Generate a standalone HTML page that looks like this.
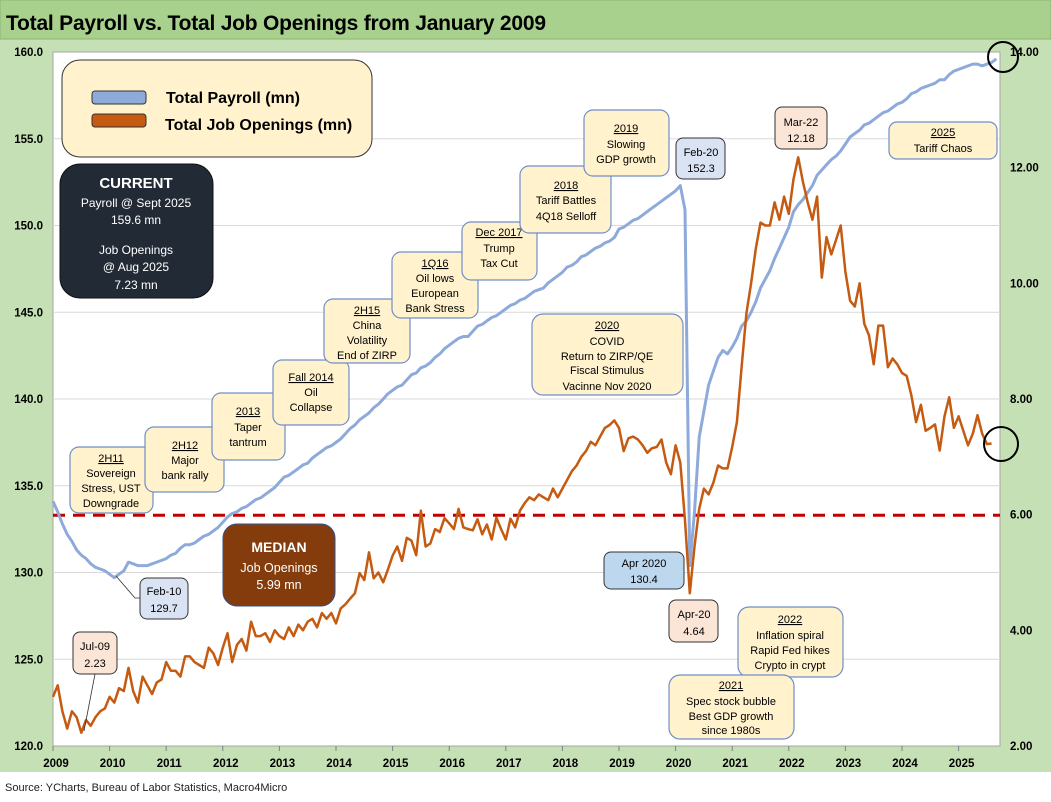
<!DOCTYPE html>
<html><head><meta charset="utf-8">
<style>
html,body{margin:0;padding:0;background:#fff;}
svg{display:block;font-family:"Liberation Sans",sans-serif;}
.bx{fill:#fff2cc;stroke:#6f8fc8;stroke-width:1.2;}
.t{font-size:11px;fill:#000;text-anchor:middle;}
.u{text-decoration:underline;}
.ax{font-size:11.5px;font-weight:bold;fill:#000;}
</style></head>
<body>
<svg id="chart" width="1051" height="802" viewBox="0 0 1051 802">
<rect x="0" y="0" width="1051" height="772" fill="#c5e0b4"/>
<rect x="0" y="0" width="1051" height="39" fill="#a9d18e" stroke="#8fb276"/>
<text x="6" y="30" font-size="21" font-weight="bold" fill="#000" textLength="540">Total Payroll vs. Total Job Openings from January 2009</text>
<rect x="53" y="52" width="947" height="694" fill="#fff" stroke="#a6a6a6"/>
<g id="grid"></g>
<g id="axes"></g>
<line id="median" x1="53" x2="1000" stroke="#c00000" stroke-width="3" stroke-dasharray="12,8"/>
<path id="payroll" fill="none" stroke="#8eaadb" stroke-width="3" stroke-linejoin="round"/>
<path id="openings" fill="none" stroke="#c55a11" stroke-width="2.5" stroke-linejoin="round"/>

<g>
<rect x="62" y="60" width="310" height="97" rx="18" fill="#fff2cc" stroke="#333" stroke-width="1"/>
<rect x="92" y="91" width="54" height="13" rx="3" fill="#8eaadb" stroke="#333"/>
<rect x="92" y="114" width="54" height="13" rx="3" fill="#c55a11" stroke="#333"/>
<text x="166" y="103" font-size="16" font-weight="bold">Total Payroll (mn)</text>
<text x="165" y="130" font-size="16" font-weight="bold">Total Job Openings (mn)</text>
</g>

<g>
<rect x="60" y="164" width="153" height="134" rx="20" fill="#222a35" stroke="#111"/>
<text x="136" y="188" font-size="15" font-weight="bold" fill="#fff" text-anchor="middle">CURRENT</text>
<text x="136" y="207" font-size="12" fill="#fff" text-anchor="middle">Payroll @ Sept 2025</text>
<text x="136" y="224" font-size="12" fill="#fff" text-anchor="middle">159.6 mn</text>
<text x="136" y="254" font-size="12" fill="#fff" text-anchor="middle">Job Openings</text>
<text x="136" y="271" font-size="12" fill="#fff" text-anchor="middle">@  Aug 2025</text>
<text x="136" y="289" font-size="12" fill="#fff" text-anchor="middle">7.23 mn</text>
</g>

<g>
<rect x="223" y="524" width="112" height="82" rx="14" fill="#843c0c" stroke="#2f4f8f"/>
<text x="279" y="552" font-size="14" font-weight="bold" fill="#fff" text-anchor="middle">MEDIAN</text>
<text x="279" y="572" font-size="12.5" fill="#fff" text-anchor="middle">Job Openings</text>
<text x="279" y="589" font-size="12.5" fill="#fff" text-anchor="middle">5.99  mn</text>
</g>

<g><rect class="bx" x="70" y="447" width="83" height="66" rx="9"/>
<text class="t u" x="111" y="462">2H11</text><text class="t" x="111" y="477">Sovereign</text><text class="t" x="111" y="492">Stress, UST</text><text class="t" x="111" y="507">Downgrade</text></g>
<g><rect class="bx" x="145" y="427" width="79" height="65" rx="9"/>
<text class="t u" x="185" y="449">2H12</text><text class="t" x="185" y="464">Major</text><text class="t" x="185" y="479">bank rally</text></g>
<g><rect class="bx" x="212" y="393" width="73" height="67" rx="9"/>
<text class="t u" x="248" y="415">2013</text><text class="t" x="248" y="431">Taper</text><text class="t" x="248" y="446">tantrum</text></g>
<g><rect class="bx" x="273" y="360" width="76" height="65" rx="9"/>
<text class="t u" x="311" y="381">Fall 2014</text><text class="t" x="311" y="396">Oil</text><text class="t" x="311" y="411">Collapse</text></g>
<g><rect class="bx" x="324" y="299" width="86" height="64" rx="9"/>
<text class="t u" x="367" y="314">2H15</text><text class="t" x="367" y="329">China</text><text class="t" x="367" y="344">Volatility</text><text class="t" x="367" y="359">End of ZIRP</text></g>
<g><rect class="bx" x="392" y="252" width="86" height="66" rx="9"/>
<text class="t u" x="435" y="267">1Q16</text><text class="t" x="435" y="282">Oil lows</text><text class="t" x="435" y="297">European</text><text class="t" x="435" y="312">Bank Stress</text></g>
<g><rect class="bx" x="462" y="222" width="75" height="58" rx="9"/>
<text class="t u" x="499" y="236">Dec 2017</text><text class="t" x="499" y="252">Trump</text><text class="t" x="499" y="267">Tax Cut</text></g>
<g><rect class="bx" x="520" y="166" width="91" height="67" rx="9"/>
<text class="t u" x="566" y="189">2018</text><text class="t" x="566" y="204">Tariff Battles</text><text class="t" x="566" y="220">4Q18 Selloff</text></g>
<g><rect class="bx" x="584" y="110" width="85" height="66" rx="9"/>
<text class="t u" x="626" y="132">2019</text><text class="t" x="626" y="148">Slowing</text><text class="t" x="626" y="163">GDP growth</text></g>
<g><rect x="676" y="138" width="49" height="41" rx="7" fill="#dae3f3" stroke="#333"/>
<text class="t" x="701" y="156" font-size="12">Feb-20</text><text class="t" x="701" y="172" font-size="12">152.3</text></g>
<g><rect x="775" y="107" width="52" height="42" rx="7" fill="#fbe5d6" stroke="#333"/>
<text class="t" x="801" y="126" font-size="12">Mar-22</text><text class="t" x="801" y="142" font-size="12">12.18</text></g>
<g><rect class="bx" x="889" y="122" width="108" height="37" rx="8"/>
<text class="t u" x="943" y="136">2025</text><text class="t" x="943" y="152">Tariff Chaos</text></g>
<g><rect class="bx" x="532" y="314" width="151" height="81" rx="11"/>
<text class="t u" x="607" y="329">2020</text><text class="t" x="607" y="345">COVID</text><text class="t" x="607" y="360">Return  to ZIRP/QE</text><text class="t" x="607" y="374">Fiscal Stimulus</text><text class="t" x="607" y="390">Vacinne  Nov 2020</text></g>
<g><rect x="604" y="552" width="80" height="37" rx="7" fill="#bdd7ee" stroke="#333"/>
<text class="t" x="644" y="567" font-size="12">Apr 2020</text><text class="t" x="644" y="583" font-size="12">130.4</text></g>
<g><rect x="669" y="600" width="49" height="42" rx="7" fill="#fbe5d6" stroke="#333"/>
<text class="t" x="694" y="618" font-size="12">Apr-20</text><text class="t" x="694" y="635" font-size="12">4.64</text></g>
<g><rect class="bx" x="738" y="607" width="105" height="70" rx="11"/>
<text class="t u" x="790" y="623">2022</text><text class="t" x="790" y="639">Inflation spiral</text><text class="t" x="790" y="654">Rapid Fed hikes</text><text class="t" x="790" y="669">Crypto in crypt</text></g>
<g><rect class="bx" x="669" y="675" width="125" height="64" rx="11"/>
<text class="t u" x="731" y="689">2021</text><text class="t" x="731" y="705">Spec stock bubble</text><text class="t" x="731" y="720">Best GDP growth</text><text class="t" x="731" y="734">since 1980s</text></g>
<g>
<polyline points="116,576 135,598 140,598" fill="none" stroke="#333" stroke-width="0.8"/>
<rect x="140" y="578" width="48" height="41" rx="7" fill="#dae3f3" stroke="#333"/>
<text class="t" x="164" y="595" font-size="12">Feb-10</text><text class="t" x="164" y="612" font-size="12">129.7</text></g>
<g>
<line x1="95" y1="674" x2="84" y2="731" stroke="#333" stroke-width="0.8"/>
<rect x="73" y="632" width="44" height="42" rx="7" fill="#fbe5d6" stroke="#333"/>
<text class="t" x="95" y="650" font-size="12">Jul-09</text><text class="t" x="95" y="667" font-size="12">2.23</text></g>

<circle cx="1003" cy="57" r="15" fill="none" stroke="#000" stroke-width="2"/>
<circle cx="1001" cy="444" r="17" fill="none" stroke="#000" stroke-width="2"/>

<text x="5" y="791" font-size="11" fill="#222">Source: YCharts, Bureau of Labor Statistics, Macro4Micro</text>
</svg>
<script>
const startYear = 2009;
const yearLabels = [2009,2010,2011,2012,2013,2014,2015,2016,2017,2018,2019,2020,2021,2022,2023,2024,2025];
const leftTicks = [120,125,130,135,140,145,150,155,160];
const rightTicks = [2,4,6,8,10,12,14];
const medianOpenings = 5.99;
const payroll = [
134.1,133.5,132.8,132.2,131.8,131.3,131.0,130.8,130.5,130.3,130.2,130.1,
129.9,129.7,129.9,130.1,130.6,130.5,130.4,130.4,130.4,130.5,130.6,130.7,
130.8,131.0,131.1,131.4,131.6,131.6,131.7,131.9,132.1,132.2,132.4,132.6,
132.9,133.2,133.4,133.5,133.7,133.8,134.0,134.2,134.3,134.5,134.7,134.9,
135.2,135.5,135.6,135.8,136.0,136.2,136.3,136.6,136.8,137.0,137.2,137.3,
137.5,137.7,138.0,138.3,138.5,138.8,139.0,139.2,139.5,139.7,140.0,140.3,
140.5,140.7,140.8,141.1,141.4,141.5,141.8,141.9,142.1,142.4,142.6,142.9,
143.1,143.3,143.5,143.6,143.6,143.9,144.2,144.3,144.5,144.7,144.8,145.0,
145.2,145.4,145.5,145.7,145.8,146.0,146.2,146.3,146.4,146.7,146.9,147.1,
147.3,147.6,147.7,147.9,148.2,148.3,148.5,148.7,148.8,149.0,149.1,149.3,
149.8,149.9,150.1,150.3,150.4,150.6,150.8,151.0,151.2,151.4,151.6,151.8,
152.0,152.3,150.9,130.4,133.5,137.8,139.3,140.8,141.6,142.4,142.8,142.6,
143.0,143.5,144.2,144.5,145.0,145.6,146.4,146.9,147.4,148.1,148.7,149.3,
149.9,150.8,151.2,151.5,151.9,152.3,152.9,153.2,153.5,153.8,154.0,154.3,
154.7,155.1,155.3,155.5,155.8,155.9,156.1,156.3,156.5,156.6,156.8,157.0,
157.1,157.3,157.6,157.7,157.9,158.0,158.1,158.2,158.4,158.4,158.7,158.9,
159.0,159.1,159.2,159.3,159.3,159.2,159.3,159.4,159.6];
const openings = [
2.85,3.05,2.6,2.3,2.6,2.5,2.23,2.45,2.35,2.5,2.6,2.65,
2.85,2.75,3.0,2.95,3.35,2.95,2.75,3.2,3.05,2.9,3.1,3.15,
3.45,3.3,3.3,3.2,3.55,3.55,3.45,3.4,3.35,3.7,3.6,3.4,
3.7,3.95,3.45,3.75,3.85,3.65,4.15,3.9,3.9,3.95,3.8,4.0,
3.9,3.85,4.05,3.9,4.1,4.0,4.15,4.2,4.05,4.3,4.2,4.3,
4.12,4.38,4.45,4.55,4.64,4.99,4.87,5.35,4.9,5.0,4.83,5.05,
5.29,5.45,5.2,5.6,5.55,5.3,6.07,5.45,5.5,5.75,5.7,5.94,
5.85,5.75,6.1,5.78,5.75,5.73,5.92,5.66,5.83,5.57,5.95,5.75,
5.57,5.93,5.78,6.07,6.2,6.3,6.25,6.35,6.3,6.25,6.45,6.3,
6.45,6.6,6.75,6.85,7.0,7.1,7.26,7.2,7.35,7.5,7.55,7.63,
7.5,7.1,7.32,7.35,7.3,7.2,7.07,7.15,7.17,7.3,6.9,6.7,
7.2,6.9,5.9,4.64,5.45,6.1,6.45,6.35,6.55,6.85,6.8,6.8,
7.17,7.6,8.55,9.48,10.0,10.6,11.05,11.0,11.0,11.4,11.1,11.5,
11.2,11.8,12.18,11.75,11.4,11.1,11.5,10.1,10.8,10.5,10.75,11.0,
10.2,9.7,9.6,10.0,9.3,9.1,8.6,9.27,9.27,8.55,8.7,8.6,
8.45,8.4,8.06,7.6,7.9,7.45,7.5,7.56,7.11,7.7,8.03,7.5,
7.7,7.45,7.2,7.4,7.72,7.4,7.22,7.23];

const NS = "http://www.w3.org/2000/svg";
const X0 = 53, X1 = 1000, Y0 = 746, Y1 = 52;
const pxPerMonth = 56.6 / 12;
function xM(i){ return X0 + i * pxPerMonth; }
function yL(v){ return Y0 - (v - 120) / (160 - 120) * (Y0 - Y1); }
function yR(v){ return Y0 - (v - 2) / (14 - 2) * (Y0 - Y1); }

const grid = document.getElementById('grid');
const axes = document.getElementById('axes');
leftTicks.forEach(v => {
  if (v > 120 && v < 160) {
    const g = document.createElementNS(NS, 'line');
    g.setAttribute('x1', X0); g.setAttribute('x2', X1);
    g.setAttribute('y1', yL(v)); g.setAttribute('y2', yL(v));
    g.setAttribute('stroke', '#d9d9d9'); g.setAttribute('stroke-width', '1');
    
    
    grid.appendChild(g);
  }
  const t = document.createElementNS(NS, 'text');
  t.setAttribute('x', 43); t.setAttribute('y', yL(v) + 4);
  t.setAttribute('text-anchor', 'end'); t.setAttribute('class', 'ax');
  t.textContent = v.toFixed(1);
  
  
  axes.appendChild(t);
});
rightTicks.forEach(v => {
  const t = document.createElementNS(NS, 'text');
  t.setAttribute('x', 1010); t.setAttribute('y', yR(v) + 4);
  t.setAttribute('class', 'ax');
  t.textContent = v.toFixed(2);
  
  
  axes.appendChild(t);
});
yearLabels.forEach(yr => {
  const x = xM((yr - startYear) * 12);
  const tk = document.createElementNS(NS, 'line');
  tk.setAttribute('x1', x); tk.setAttribute('x2', x);
  tk.setAttribute('y1', Y0); tk.setAttribute('y2', Y0 + 5);
  tk.setAttribute('stroke', '#808080');
  
  
  axes.appendChild(tk);
  const t = document.createElementNS(NS, 'text');
  t.setAttribute('x', x + 3); t.setAttribute('y', 767);
  t.setAttribute('text-anchor', 'middle'); t.setAttribute('class', 'ax');
  t.textContent = yr;
  
  
  axes.appendChild(t);
});

const med = document.getElementById('median');
med.setAttribute('y1', yR(medianOpenings));
med.setAttribute('y2', yR(medianOpenings));

document.getElementById('payroll').setAttribute('d',
  payroll.map((v, i) => (i ? 'L' : 'M') + xM(i).toFixed(1) + ',' + yL(v).toFixed(1)).join(''));
document.getElementById('openings').setAttribute('d',
  openings.map((v, i) => (i ? 'L' : 'M') + xM(i).toFixed(1) + ',' + yR(v).toFixed(1)).join(''));
</script>
</body></html>
